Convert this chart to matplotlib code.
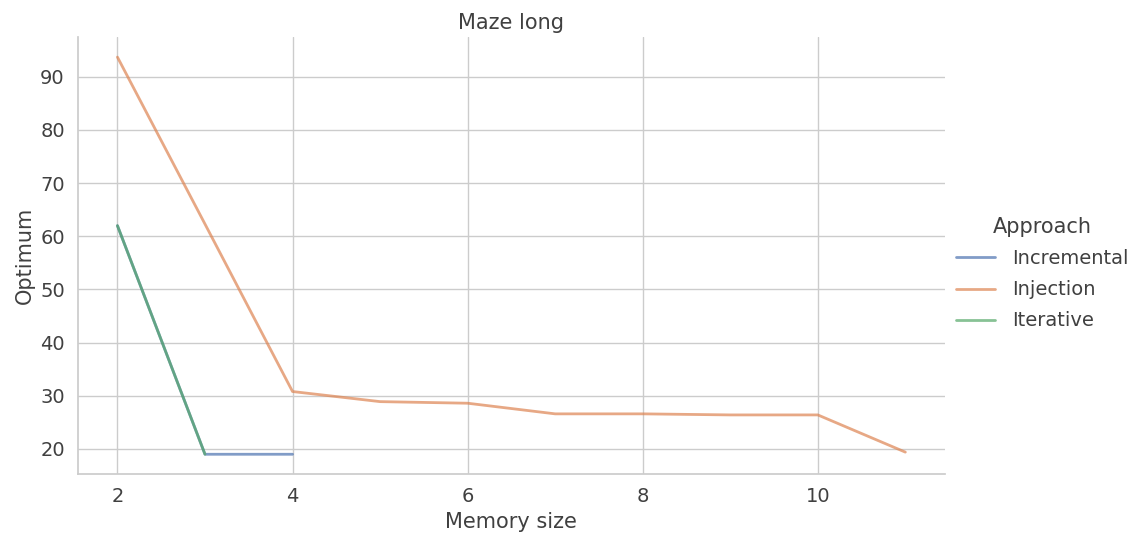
import matplotlib
matplotlib.use("Agg")
import matplotlib.pyplot as plt
import seaborn as sns
import pandas as pd

# Optimum vs memory size, per approach
inc_x = [2, 3, 4]
inc_y = [62.0, 19.0, 19.0]
inj_x = [2, 3, 4, 5, 6, 7, 8, 9, 10, 11]
inj_y = [93.7, 62.3, 30.8, 28.9, 28.6, 26.6, 26.6, 26.4, 26.4, 19.4]
itr_x = [2, 3]
itr_y = [62.0, 19.0]

df = pd.concat([
    pd.DataFrame({"Memory size": inc_x, "Optimum": inc_y, "Approach": "Incremental"}),
    pd.DataFrame({"Memory size": inj_x, "Optimum": inj_y, "Approach": "Injection"}),
    pd.DataFrame({"Memory size": itr_x, "Optimum": itr_y, "Approach": "Iterative"}),
])

sns.set_theme(style="whitegrid")
plt.rcParams['font.family'] = ['DejaVu Sans']

fig = plt.figure(figsize=(11.41, 5.4), dpi=100)
ax = fig.add_axes([0.0684, 0.122, 0.7596, 0.809])
sns.lineplot(data=df, x="Memory size", y="Optimum", hue="Approach", alpha=0.7,
             linewidth=2, ax=ax, legend=True)
sns.despine(ax=ax)
ax.set_title("Maze long", fontsize=15, color="0.25")
ax.set_xlabel("Memory size", fontsize=15, color="0.25")
ax.set_ylabel("Optimum", fontsize=15, color="0.25")
ax.tick_params(labelsize=14, labelcolor="0.25")

handles, labels = ax.get_legend_handles_labels()
ax.get_legend().remove()
leg = fig.legend(handles, labels, title="Approach", loc="center left", bbox_to_anchor=(0.8226, 0.493),
                 frameon=False, fontsize=14, title_fontsize=15, handlelength=2.0,
                 handletextpad=0.9, labelspacing=0.62)
for t in leg.get_texts():
    t.set_color("0.25")
leg.get_title().set_color("0.25")

fig.savefig("out.png", dpi=100)
